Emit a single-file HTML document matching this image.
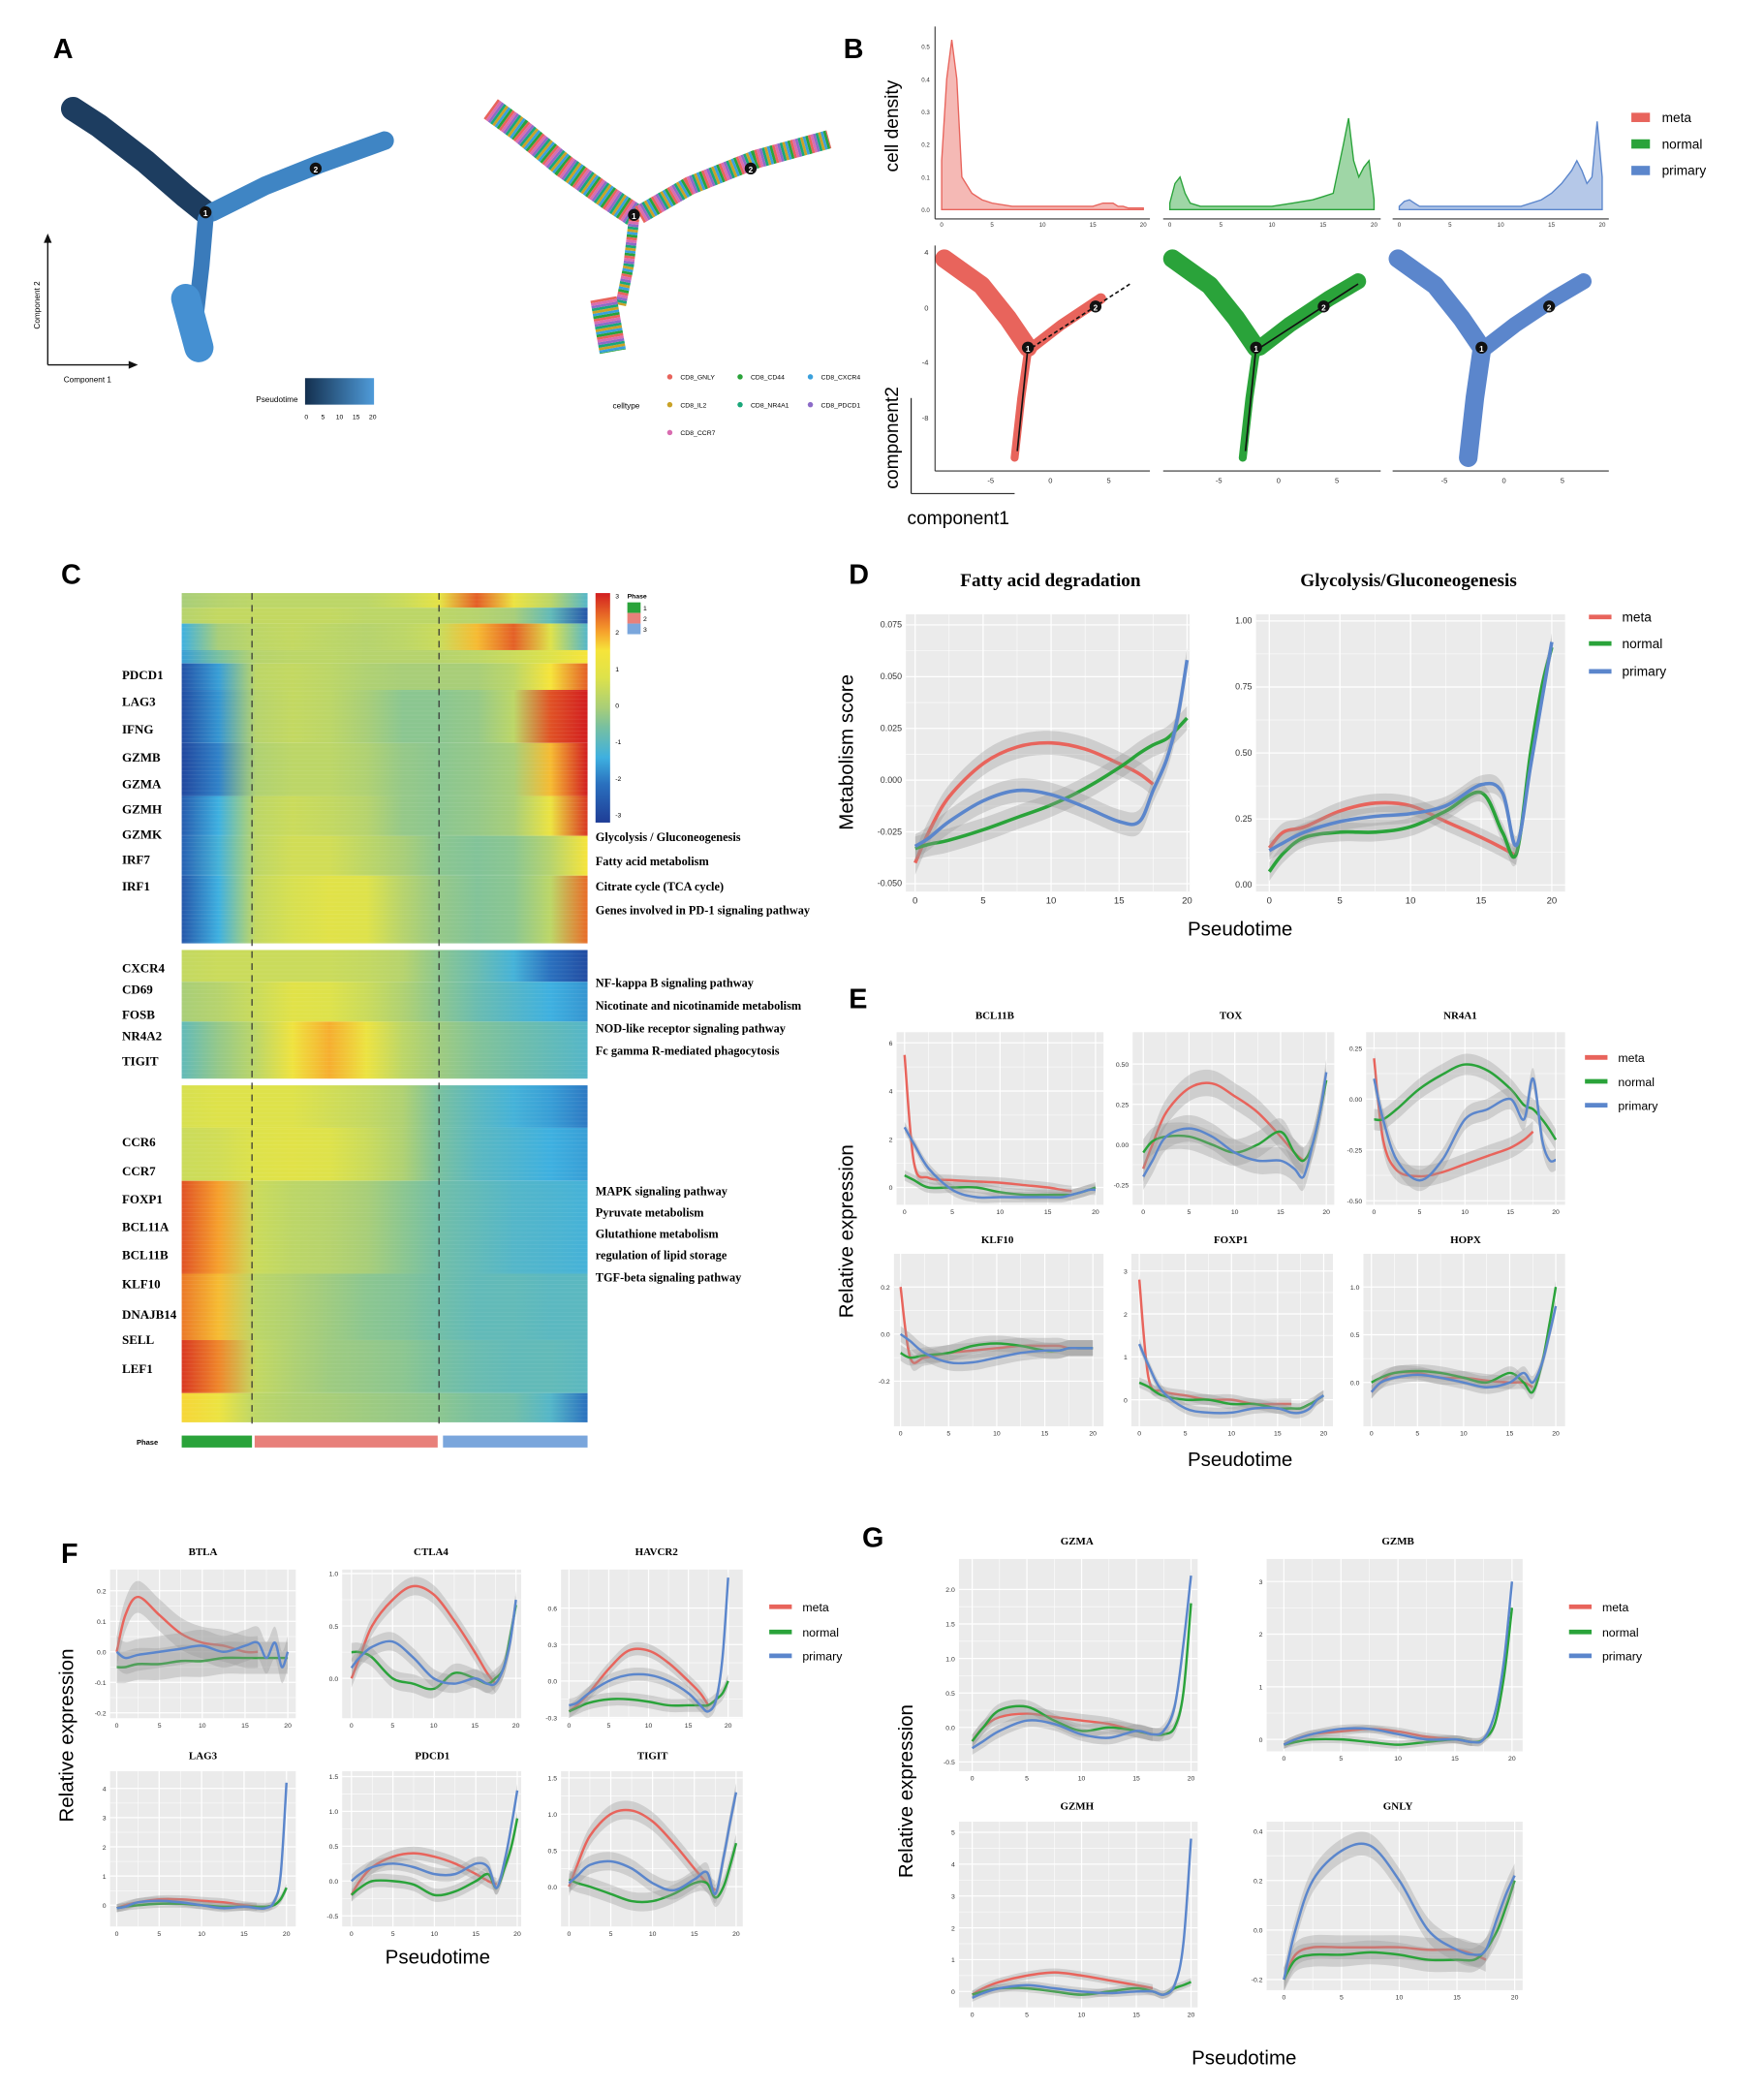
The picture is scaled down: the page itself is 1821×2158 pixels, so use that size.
<!DOCTYPE html>
<html><head><meta charset="utf-8"><style>
html,body{margin:0;padding:0;background:#fff;}
svg{display:block;font-family:"Liberation Sans",sans-serif;}
.sans{font-family:"Liberation Sans",sans-serif;}
.serif{font-family:"Liberation Serif",serif;font-weight:bold;}
</style></head><body>
<svg id="fig" width="1821" height="2158" viewBox="0 0 1330 1576" preserveAspectRatio="none" xmlns="http://www.w3.org/2000/svg" font-family="Liberation Sans, sans-serif">
<defs></defs>
<g id="static" class="sans">
<text x="40" y="44" font-size="21" font-weight="bold">A</text>
<text x="636" y="44" font-size="21" font-weight="bold">B</text>
<text x="46" y="440" font-size="21" font-weight="bold">C</text>
<text x="640" y="440" font-size="21" font-weight="bold">D</text>
<text x="640" y="760" font-size="21" font-weight="bold">E</text>
<text x="46" y="1178" font-size="21" font-weight="bold">F</text>
<text x="650" y="1166" font-size="21" font-weight="bold">G</text>
</g>
</svg>
<script>
const NS="http://www.w3.org/2000/svg";
const svg=document.getElementById('fig');
const defs=svg.querySelector('defs');
function mk(tag,attrs,parent){const e=document.createElementNS(NS,tag);for(const k in attrs)e.setAttribute(k,attrs[k]);(parent||svg).appendChild(e);return e;}
function txt(x,y,s,size,opts,parent){const t=mk('text',Object.assign({x:x,y:y,'font-size':size,class:'sans'},opts||{}),parent);t.textContent=s;return t;}
const COL={meta:'#e8645c',normal:'#2aa33a',primary:'#5b86cc'};
const seriesNames=['meta','normal','primary'];

// ---------- Panel A trajectories ----------
function traj(pts,stroke,w,name){const p=mk('polyline',{points:pts.map(p=>p.join(',')).join(' '),fill:'none',stroke:stroke,'stroke-width':w,'stroke-linecap':'round','stroke-linejoin':'round'});

return p;}
function node(x,y,lab){const c=mk('circle',{cx:x,cy:y,r:4.5,fill:'#111'});


txt(x,y+3,lab,6,{fill:'#fff','text-anchor':'middle','font-weight':'bold'});}
let g=mk('linearGradient',{id:'pt',x1:0,y1:0,x2:1,y2:0},defs);
mk('stop',{offset:0,'stop-color':'#14304f'},g);mk('stop',{offset:1,'stop-color':'#4f9bd9'},g);
traj([[55,82],[75,95],[110,122],[140,148],[155,160]],'#1d3d60',18,'trajectory-arm-left');
traj([[160,160],[200,140],[240,124],[290,106]],'#3f85c4',14,'trajectory-arm-right');
traj([[155,165],[152,200],[148,235],[145,262]],'#3a7bbb',12,'trajectory-arm-down');
traj([[140,225],[150,262]],'#4590d2',22,'trajectory-tip-down');
node(155,160,'1');node(238,127,'2');
mk('line',{x1:36,y1:275,x2:36,y2:180,stroke:'#111','stroke-width':1});
mk('line',{x1:36,y1:275,x2:100,y2:275,stroke:'#111','stroke-width':1});
mk('path',{d:'M33,183 L36,176 L39,183Z',fill:'#111'});mk('path',{d:'M97,272 L104,275 L97,278Z',fill:'#111'});
txt(30,230,'Component 2',6,{transform:'rotate(-90 30 230)','text-anchor':'middle'});
txt(48,288,'Component 1',6);
txt(193,303,'Pseudotime',6);
mk('rect',{x:230,y:285,width:52,height:20,fill:'url(#pt)'});
['0','5','10','15','20'].forEach((s,i)=>txt(231+i*12.5,316,s,5,{'text-anchor':'middle'}));
const cellColors=['#e8645c','#2aa33a','#3aa0dc','#c9a227','#1aa77a','#8c6bc8','#d96cb0'];
const cellNames=['CD8_GNLY','CD8_CD44','CD8_CXCR4','CD8_IL2','CD8_NR4A1','CD8_PDCD1','CD8_CCR7'];
const armR=[[[370,82],[392,98],[425,125],[460,150],[478,162]],[[482,162],[520,140],[570,120],[625,105]],[[478,165],[474,200],[468,230]],[[455,225],[462,265]]];
const armW=[18,14,8,20];
armR.forEach((a,i)=>{cellColors.forEach((c,j)=>{const p=traj(a,c,armW[i],'celltype-trajectory-'+cellNames[j]);p.setAttribute('stroke-dasharray','2 12');p.setAttribute('stroke-dashoffset',j*2);p.setAttribute('stroke-linecap','butt');});});
node(478,162,'1');node(566,127,'2');
cellNames.forEach((n,i)=>{const col=i%3,row=Math.floor(i/3);const x=505+col*53,y=286+row*21;
mk('circle',{cx:x,cy:y-2,r:2,fill:cellColors[i]});txt(x+8,y,n,5);});
txt(462,308,'celltype',6);

// ---------- Panel B ----------
const densX=[0,0.5,1,1.5,2,3,4,5,7,10,12,14,15,16,17,17.5,18,18.5,19,19.5,20];
const densMeta=[0.15,0.4,0.52,0.4,0.1,0.05,0.03,0.02,0.01,0.01,0.01,0.01,0.01,0.02,0.02,0.01,0.01,0.005,0.005,0.005,0.005];
const densNormal=[0.02,0.08,0.1,0.05,0.02,0.01,0.01,0.01,0.01,0.01,0.02,0.03,0.04,0.05,0.2,0.28,0.15,0.1,0.13,0.15,0.03];
const densPrimary=[0.01,0.025,0.03,0.02,0.01,0.01,0.01,0.01,0.01,0.01,0.01,0.03,0.05,0.08,0.12,0.15,0.12,0.08,0.1,0.27,0.1];
const densSets=[densMeta,densNormal,densPrimary];
const bPanels=[[710,862],[882,1036],[1055,1208]];
const dy=v=>158-v/0.52*128;
densSets.forEach((d,i)=>{const [a,b]=bPanels[i];const dx=v=>a+v/20*(b-a);
let s='M'+dx(0)+','+dy(0);d.forEach((v,k)=>{s+=' L'+dx(densX[k]).toFixed(1)+','+dy(v).toFixed(1);});s+=' L'+dx(20)+','+dy(0)+'Z';
const p=mk('path',{d:s,fill:COL[seriesNames[i]],'fill-opacity':0.45,stroke:COL[seriesNames[i]],'stroke-width':1});


mk('line',{x1:a-5,y1:165,x2:b+5,y2:165,stroke:'#333','stroke-width':0.8});
[0,5,10,15,20].forEach(t=>txt(dx(t),171,t,4.5,{'text-anchor':'middle',fill:'#333'}));
});
mk('line',{x1:705,y1:20,x2:705,y2:165,stroke:'#333','stroke-width':0.8});
[0,0.1,0.2,0.3,0.4,0.5].forEach(t=>txt(701,dy(t)+2,t.toFixed(1),4.5,{'text-anchor':'end',fill:'#333'}));
txt(677,95,'cell density',14,{transform:'rotate(-90 677 95)','text-anchor':'middle'});
seriesNames.forEach((n,i)=>{const y=90+i*20;const r=mk('rect',{x:1230,y:y-5,width:14,height:7,fill:COL[n]});

txt(1253,y+2,n,10);});
const bTraj=[[[712,195],[740,215],[760,240],[775,262]],[[778,262],[800,245],[830,225],[852,212]],[[775,265],[770,300],[765,345]]];
const shifts=[0,172,342];
shifts.forEach((sx,i)=>{const c=COL[seriesNames[i]];
const arms=bTraj.map(a=>a.map(p=>[p[0]+sx,p[1]]));
traj(arms[0],c,14,'b-traj-left-'+seriesNames[i]);
traj(i==0?arms[1].slice(0,3):arms[1],c,i==0?8:12,'b-traj-right-'+seriesNames[i]);
traj(arms[2],c,i==2?14:6,'b-traj-down-'+seriesNames[i]);
if(i<2){mk('line',{x1:775+sx,y1:262,x2:767+sx,y2:340,stroke:'#111','stroke-width':1.2});mk('line',{x1:778+sx,y1:262,x2:852+sx,y2:214,stroke:'#111','stroke-width':1.2,'stroke-dasharray':i==0?'3 2':''});}
node(775+sx,262,'1');node(826+sx,231,'2');
const a=bPanels[i][0],b=bPanels[i][1];
mk('line',{x1:a-5,y1:355,x2:b+5,y2:355,stroke:'#333','stroke-width':0.8});
[[-5,747],[0,792],[5,836]].forEach(t=>txt(t[1]+sx,364,t[0],5.5,{'text-anchor':'middle',fill:'#333'}));
});
mk('line',{x1:705,y1:185,x2:705,y2:355,stroke:'#333','stroke-width':0.8});
[[4,190],[0,232],[-4,273],[-8,315]].forEach(t=>txt(700,t[1]+2,t[0],5.5,{'text-anchor':'end',fill:'#333'}));
txt(677,330,'component2',14,{transform:'rotate(-90 677 330)','text-anchor':'middle'});
mk('line',{x1:687,y1:372,x2:765,y2:372,stroke:'#111','stroke-width':0.8});mk('line',{x1:687,y1:372,x2:687,y2:300,stroke:'#111','stroke-width':0.8});
txt(684,395,'component1',14);

// ---------- Panel C heatmap ----------
const hmX0=137,hmX1=443;
const bandRows=[[447,458],[458,470],[470,490],[490,500],[500,520],[520,560],[560,600],[600,630],[630,660],[660,711],[716,740],[740,770],[770,813],[818,850],[850,890],[890,960],[960,1010],[1010,1050],[1050,1072]];
const bandVals=[
[0,0.2,0.3,0.3,0.3,0.3,0.5,1.0,2.5,1.2,0.3,-1],
[0.2,0.4,0.4,0.4,0.4,0.3,0.3,0.3,0.2,0,-0.8,-2.5],
[-1.3,0,0.3,0.4,0.3,0.2,0.3,0.5,1.8,2.5,0.8,-1],
[-1.5,-0.5,0.2,0.3,0.3,0.2,0.2,0.2,0.3,0.5,0.8,1.5],
[-2.6,-1.5,0.3,0.4,0.3,0.1,0,0,0,0.3,1.5,2.5],
[-2.7,-1.6,0.2,0.4,0.3,0,-0.3,-0.3,-0.2,0.3,2.6,3],
[-2.8,-1.8,0.1,0.3,0.3,0.1,-0.2,-0.3,-0.2,0,1.8,3],
[-2.4,-1.3,0.3,0.5,0.4,0.2,-0.2,-0.3,-0.2,0,1.2,2.8],
[-2.3,-1.2,0.3,0.6,0.6,0.3,0,-0.3,-0.4,-0.3,0.2,1.5],
[-2.5,-1.3,0.4,0.7,0.9,0.8,0.2,-0.2,-0.4,-0.3,0.3,2.4],
[0.4,0.5,0.5,0.5,0.5,0.4,0.2,-0.3,-0.7,-1.2,-2,-2.7],
[0,0.2,0.5,0.9,0.8,0.5,0.1,-0.3,-0.7,-1,-1.3,-1.6],
[-0.8,-0.2,0.3,1.3,1.9,1.2,0.3,-0.1,-0.4,-0.6,-0.8,-1],
[0.7,0.8,0.8,0.8,0.6,0.4,0.1,-0.5,-0.9,-1.2,-1.5,-1.9],
[0.5,0.6,0.8,0.9,0.8,0.5,0.1,-0.5,-0.9,-1.1,-1.3,-1.5],
[2.6,2.0,0.5,0.3,0.2,0,-0.3,-0.6,-0.8,-1,-1.1,-1.2],
[2.3,1.8,0.3,0.1,-0.1,-0.3,-0.4,-0.6,-0.8,-0.8,-0.9,-0.9],
[2.8,2.2,0.4,0.1,-0.1,-0.2,-0.3,-0.5,-0.7,-0.8,-0.8,-0.9],
[1.6,1.2,0.3,0.1,0,-0.1,-0.2,-0.3,-0.5,-0.6,-1,-2]];
const cStops=[[-3,[31,61,150]],[-2,[42,112,190]],[-1.3,[62,176,224]],[-0.5,[120,192,160]],[0,[168,206,120]],[0.8,[222,226,74]],[1.5,[246,228,58]],[2,[246,160,44]],[3,[210,30,32]]];
function hcol(v){v=Math.max(-3,Math.min(3,v));for(let i=0;i<cStops.length-1;i++){const [a,ca]=cStops[i],[b,cb]=cStops[i+1];if(v<=b){const t=(v-a)/(b-a);return 'rgb('+ca.map((c,k)=>Math.round(c+(cb[k]-c)*t)).join(',')+')';}}return 'rgb(210,30,32)';}
bandRows.forEach((r,i)=>{const gr=mk('linearGradient',{id:'hb'+i,x1:0,y1:0,x2:1,y2:0},defs);
bandVals[i].forEach((v,k)=>mk('stop',{offset:(k/(bandVals[i].length-1)).toFixed(3),'stop-color':hcol(v)},gr));
const rc=mk('rect',{x:hmX0,y:r[0],width:hmX1-hmX0,height:r[1]-r[0],fill:'url(#hb'+i+')'});

});
for(let y=449;y<1072;y+=3){if((y>711&&y<716)||(y>813&&y<818))continue;mk('line',{x1:hmX0,y1:y,x2:hmX1,y2:y,stroke:'#fff','stroke-opacity':0.08,'stroke-width':0.6});}
[190,331].forEach(x=>mk('line',{x1:x,y1:447,x2:x,y2:1075,stroke:'#333','stroke-width':0.9,'stroke-dasharray':'5 4'}));
const cbg=mk('linearGradient',{id:'cbar',x1:0,y1:1,x2:0,y2:0},defs);
cStops.forEach(s=>mk('stop',{offset:((s[0]+3)/6).toFixed(3),'stop-color':hcol(s[0])},cbg));
mk('rect',{x:449,y:447,width:11,height:173,fill:'url(#cbar)'});
[3,2,1,0,-1,-2,-3].forEach((t,i)=>txt(464,451+i*27.5,t,5,{'text-anchor':'start'}));
txt(473,451,'Phase',5,{'font-weight':'bold'});
['#2aa33a','#e8807a','#7aa6dc'].forEach((c,i)=>{mk('rect',{x:473,y:454+i*8,width:10,height:8,fill:c});txt(485,460+i*8,i+1,5);});
const genes=[['PDCD1',512],['LAG3',532],['IFNG',553],['GZMB',574],['GZMA',594],['GZMH',613],['GZMK',632],['IRF7',651],['IRF1',671],['CXCR4',733],['CD69',749],['FOSB',768],['NR4A2',784],['TIGIT',803],['CCR6',864],['CCR7',886],['FOXP1',907],['BCL11A',928],['BCL11B',949],['KLF10',971],['DNAJB14',994],['SELL',1013],['LEF1',1035]];
genes.forEach(gn=>{const t=txt(92,gn[1],gn[0],9.5,{class:'serif'});});
const paths=[['Glycolysis / Gluconeogenesis',634],['Fatty acid metabolism',652],['Citrate cycle (TCA cycle)',671],['Genes involved in PD-1 signaling pathway',689],['NF-kappa B signaling pathway',744],['Nicotinate and nicotinamide metabolism',761],['NOD-like receptor signaling pathway',778],['Fc gamma R-mediated phagocytosis',795],['MAPK signaling pathway',901],['Pyruvate metabolism',917],['Glutathione metabolism',933],['regulation of lipid storage',949],['TGF-beta signaling pathway',966]];
paths.forEach(p=>txt(449,p[1],p[0],9,{class:'serif'}));
[[137,190,'#2aa33a'],[192,330,'#e8807a'],[334,443,'#7aa6dc']].forEach((s,i)=>{const r=mk('rect',{x:s[0],y:1082,width:s[1]-s[0],height:9,fill:s[2]});});
txt(103,1089,'Phase',5.5,{'font-weight':'bold'});

// ---------- smooth line panels ----------
const XS=[0,1,2.5,5,7.5,10,12.5,15,16.5,17.5,18.5,19.3,20];
const N=null;
const fattyMeta=[-0.04,-0.025,-0.008,0.008,0.016,0.018,0.015,0.008,0.003,-0.002,N,N,N];
const fattyNormal=[-0.033,-0.031,-0.029,-0.024,-0.018,-0.012,-0.004,0.006,0.013,0.017,0.02,0.025,0.03];
const fattyPrimary=[-0.032,-0.028,-0.02,-0.01,-0.005,-0.007,-0.013,-0.02,-0.02,-0.005,0.01,0.03,0.058];
const glyMeta=[0.14,0.2,0.22,0.28,0.31,0.3,0.24,0.18,0.14,0.11,N,N,N];
const glyNormal=[0.05,0.12,0.18,0.2,0.2,0.22,0.28,0.35,0.2,0.12,0.5,0.75,0.9];
const glyPrimary=[0.13,0.16,0.2,0.24,0.26,0.27,0.3,0.38,0.35,0.15,0.45,0.7,0.92];
const bcl11bMeta=[5.5,1,0.4,0.3,0.25,0.2,0.1,0,-0.1,-0.15,N,N,N];
const bcl11bNormal=[0.5,0.3,0,0,0,-0.2,-0.3,-0.3,-0.3,-0.3,-0.2,-0.1,0];
const bcl11bPrimary=[2.5,1.8,0.8,-0.1,-0.4,-0.4,-0.4,-0.4,-0.4,-0.3,-0.2,-0.1,-0.1];
const toxMeta=[-0.15,0,0.2,0.35,0.38,0.3,0.2,0.05,-0.05,-0.1,N,N,N];
const toxNormal=[-0.05,0.02,0.05,0.05,0,-0.05,0,0.08,-0.05,-0.1,0,0.2,0.4];
const toxPrimary=[-0.2,-0.1,0.05,0.1,0.05,-0.05,-0.1,-0.1,-0.15,-0.2,0,0.2,0.45];
const nr4a1Meta=[0.2,-0.2,-0.35,-0.38,-0.36,-0.32,-0.28,-0.24,-0.2,-0.16,N,N,N];
const nr4a1Normal=[-0.1,-0.1,-0.05,0.05,0.12,0.17,0.14,0.05,-0.03,-0.05,-0.1,-0.15,-0.2];
const nr4a1Primary=[0.1,-0.1,-0.3,-0.4,-0.3,-0.1,-0.05,0,-0.1,0.1,-0.2,-0.3,-0.3];
const klf10Meta=[0.2,-0.1,-0.1,-0.08,-0.07,-0.06,-0.05,-0.05,-0.05,-0.06,-0.06,-0.06,-0.06];
const klf10Normal=[-0.08,-0.1,-0.09,-0.08,-0.05,-0.04,-0.05,-0.07,-0.07,-0.06,-0.06,-0.06,-0.06];
const klf10Primary=[0,-0.03,-0.08,-0.12,-0.12,-0.1,-0.08,-0.07,-0.07,-0.06,-0.06,-0.06,-0.06];
const foxp1Meta=[2.8,0.5,0.2,0.1,0,0,-0.1,-0.1,-0.1,N,N,N,N];
const foxp1Normal=[0.4,0.3,0.1,0,0,-0.1,-0.1,-0.2,-0.2,-0.2,-0.1,0,0.1];
const foxp1Primary=[1.3,0.8,0.2,-0.2,-0.3,-0.3,-0.2,-0.2,-0.3,-0.3,-0.2,0,0.1];
const hopxMeta=[-0.1,0,0.1,0.1,0.05,0.05,0.02,0,0,-0.05,N,N,N];
const hopxNormal=[0,0.05,0.1,0.12,0.1,0.05,0,0.1,0,-0.1,0.2,0.6,1.0];
const hopxPrimary=[-0.1,0,0.05,0.08,0.05,0,-0.05,0,0.1,0,0.2,0.5,0.8];
const btlaMeta=[0,0.12,0.18,0.12,0.06,0.03,0.02,0,0,N,N,N,N];
const btlaNormal=[-0.05,-0.05,-0.04,-0.04,-0.03,-0.03,-0.02,-0.02,-0.02,-0.02,-0.02,-0.02,-0.02];
const btlaPrimary=[0,-0.02,-0.01,0,0.01,0.02,0,0.02,0.03,-0.02,0.03,-0.05,0];
const ctla4Meta=[0,0.2,0.5,0.75,0.88,0.8,0.55,0.25,0.05,-0.05,N,N,N];
const ctla4Normal=[0.25,0.25,0.2,0,-0.05,-0.1,0.05,0,-0.05,0,0.1,0.4,0.7];
const ctla4Primary=[0.1,0.2,0.3,0.35,0.2,0,-0.05,0,-0.05,-0.05,0.1,0.35,0.75];
const havcr2Meta=[-0.25,-0.2,-0.1,0.1,0.25,0.25,0.15,0,-0.1,-0.2,N,N,N];
const havcr2Normal=[-0.25,-0.22,-0.18,-0.15,-0.15,-0.17,-0.2,-0.2,-0.2,-0.2,-0.15,-0.1,0];
const havcr2Primary=[-0.2,-0.18,-0.1,0,0.05,0.05,0,-0.1,-0.2,-0.25,-0.15,0.2,0.85];
const lag3Meta=[-0.1,0,0.1,0.2,0.2,0.15,0.1,0,-0.05,N,N,N,N];
const lag3Normal=[-0.1,-0.05,0,0.05,0.05,0,-0.05,-0.05,-0.05,-0.05,0,0.2,0.6];
const lag3Primary=[-0.1,-0.05,0.1,0.15,0.1,0,-0.1,-0.05,-0.1,-0.1,0.1,1,4.2];
const pdcd1Meta=[-0.2,0,0.2,0.35,0.4,0.35,0.25,0.1,0,-0.05,N,N,N];
const pdcd1Normal=[-0.2,-0.1,0,0,-0.05,-0.2,-0.15,0,0.1,-0.1,0.2,0.5,0.9];
const pdcd1Primary=[0,0.1,0.2,0.25,0.2,0.1,0.1,0.25,0.2,-0.1,0.3,0.8,1.3];
const tigitMeta=[0,0.3,0.7,1.0,1.05,0.9,0.6,0.25,0.05,-0.05,N,N,N];
const tigitNormal=[0.1,0.05,0,-0.1,-0.2,-0.2,-0.1,0.05,0.05,-0.15,0,0.3,0.6];
const tigitPrimary=[0.05,0.15,0.3,0.35,0.25,0.05,-0.05,0.1,0.2,-0.1,0.4,0.9,1.3];
const gzmaMeta=[-0.2,0,0.15,0.2,0.15,0.1,0.05,-0.05,-0.1,N,N,N,N];
const gzmaNormal=[-0.2,0,0.25,0.3,0.1,-0.05,0,-0.05,-0.1,-0.1,0,0.5,1.8];
const gzmaPrimary=[-0.3,-0.2,-0.05,0.1,0.05,-0.1,-0.15,-0.05,-0.1,-0.05,0.3,1.2,2.2];
const gzmbMeta=[-0.1,0,0.1,0.15,0.2,0.15,0.05,0,-0.05,N,N,N,N];
const gzmbNormal=[-0.1,-0.05,0,0,-0.05,-0.1,-0.05,0,-0.05,0,0.3,1.2,2.5];
const gzmbPrimary=[-0.1,0,0.1,0.2,0.2,0.1,0,0,-0.05,0,0.5,1.5,3.0];
const gzmhMeta=[-0.1,0.1,0.3,0.5,0.6,0.5,0.35,0.2,0.1,N,N,N,N];
const gzmhNormal=[-0.1,0,0.1,0.1,0,-0.1,0,0.1,0,-0.1,0.1,0.2,0.3];
const gzmhPrimary=[-0.2,-0.05,0.1,0.2,0.1,0,-0.05,0,0,-0.1,0.2,1.5,4.8];
const gnlyMeta=[-0.2,-0.1,-0.07,-0.07,-0.07,-0.07,-0.08,-0.08,-0.1,-0.12,N,N,N];
const gnlyNormal=[-0.2,-0.12,-0.1,-0.1,-0.09,-0.1,-0.12,-0.12,-0.12,-0.08,0,0.1,0.2];
const gnlyPrimary=[-0.2,0,0.2,0.32,0.34,0.2,0,-0.08,-0.1,-0.08,0.05,0.15,0.22];

const panels=[
{id:'fatty-acid-degradation',title:'Fatty acid degradation',tx:792,ty:442,ts:14,g:[683,897,463,672,690,895,-0.05,666,0.075,471],yt:[-0.05,-0.025,0,0.025,0.05,0.075],fmt:3,s:[fattyMeta,fattyNormal,fattyPrimary],rib:9},
{id:'glycolysis',title:'Glycolysis/Gluconeogenesis',tx:1062,ty:442,ts:14,g:[947,1180,463,672,957,1170,0,667,1,468],yt:[0,0.25,0.5,0.75,1],fmt:2,s:[glyMeta,glyNormal,glyPrimary],rib:7},
{id:'bcl11b',title:'BCL11B',tx:750,ty:768,g:[676,832,778,908,682,826,0,895,6,786],yt:[0,2,4,6],fmt:0,s:[bcl11bMeta,bcl11bNormal,bcl11bPrimary],rib:4},
{id:'tox',title:'TOX',tx:928,ty:768,g:[854,1006,778,908,862,1000,-0.25,893,0.5,802],yt:[-0.25,0,0.25,0.5],fmt:2,s:[toxMeta,toxNormal,toxPrimary],rib:10},
{id:'nr4a1',title:'NR4A1',tx:1101,ty:768,g:[1030,1180,778,908,1036,1173,-0.5,905,0.25,790],yt:[-0.5,-0.25,0,0.25],fmt:2,s:[nr4a1Meta,nr4a1Normal,nr4a1Primary],rib:8},
{id:'klf10',title:'KLF10',tx:752,ty:937,g:[674,832,945,1075,679,824,-0.2,1041,0.2,970],yt:[-0.2,0,0.2],fmt:1,s:[klf10Meta,klf10Normal,klf10Primary],rib:6},
{id:'foxp1',title:'FOXP1',tx:928,ty:937,g:[853,1005,945,1075,859,998,0,1055,3,958],yt:[0,1,2,3],fmt:0,s:[foxp1Meta,foxp1Normal,foxp1Primary],rib:4},
{id:'hopx',title:'HOPX',tx:1105,ty:937,g:[1028,1180,945,1075,1034,1173,0,1042,1,970],yt:[0,0.5,1],fmt:1,s:[hopxMeta,hopxNormal,hopxPrimary],rib:5},
{id:'btla',title:'BTLA',tx:153,ty:1172,g:[83,223,1183,1295,88,217,-0.2,1291,0.2,1199],yt:[-0.2,-0.1,0,0.1,0.2],fmt:1,s:[btlaMeta,btlaNormal,btlaPrimary],rib:12},
{id:'ctla4',title:'CTLA4',tx:325,ty:1172,g:[258,393,1183,1295,265,389,0,1265,1,1186],yt:[0,0.5,1],fmt:1,s:[ctla4Meta,ctla4Normal,ctla4Primary],rib:7},
{id:'havcr2',title:'HAVCR2',tx:495,ty:1172,g:[423,560,1183,1295,429,549,0,1267,0.6,1212],yt:[-0.3,0,0.3,0.6],fmt:1,s:[havcr2Meta,havcr2Normal,havcr2Primary],rib:5},
{id:'lag3',title:'LAG3',tx:153,ty:1326,g:[83,223,1335,1452,88,216,0,1436,4,1348],yt:[0,1,2,3,4],fmt:0,s:[lag3Meta,lag3Normal,lag3Primary],rib:3},
{id:'pdcd1',title:'PDCD1',tx:326,ty:1326,g:[258,393,1335,1452,265,390,-0.5,1444,1.5,1339],yt:[-0.5,0,0.5,1,1.5],fmt:1,s:[pdcd1Meta,pdcd1Normal,pdcd1Primary],rib:5},
{id:'tigit',title:'TIGIT',tx:492,ty:1326,g:[423,560,1335,1452,429,555,0,1422,1.5,1340],yt:[0,0.5,1,1.5],fmt:1,s:[tigitMeta,tigitNormal,tigitPrimary],rib:7},
{id:'gzma',title:'GZMA',tx:812,ty:1164,g:[723,903,1175,1335,733,898,-0.5,1328,2,1198],yt:[-0.5,0,0.5,1,1.5,2],fmt:1,s:[gzmaMeta,gzmaNormal,gzmaPrimary],rib:5},
{id:'gzmb',title:'GZMB',tx:1054,ty:1164,g:[955,1148,1175,1320,968,1140,0,1311,3,1192],yt:[0,1,2,3],fmt:0,s:[gzmbMeta,gzmbNormal,gzmbPrimary],rib:3},
{id:'gzmh',title:'GZMH',tx:812,ty:1364,g:[723,903,1373,1513,733,898,0,1501,5,1381],yt:[0,1,2,3,4,5],fmt:0,s:[gzmhMeta,gzmhNormal,gzmhPrimary],rib:3},
{id:'gnly',title:'GNLY',tx:1054,ty:1364,g:[955,1148,1373,1500,968,1142,-0.2,1492,0.4,1380],yt:[-0.2,0,0.2,0.4],fmt:1,s:[gnlyMeta,gnlyNormal,gnlyPrimary],rib:9}
];
function spline(pts){let d='M'+pts[0][0].toFixed(1)+','+pts[0][1].toFixed(1);
for(let i=0;i<pts.length-1;i++){const p0=pts[i-1]||pts[i],p1=pts[i],p2=pts[i+1],p3=pts[i+2]||p2;
const c1=[p1[0]+(p2[0]-p0[0])/6,p1[1]+(p2[1]-p0[1])/6],c2=[p2[0]-(p3[0]-p1[0])/6,p2[1]-(p3[1]-p1[1])/6];
d+=' C'+c1.map(v=>v.toFixed(1)).join(',')+' '+c2.map(v=>v.toFixed(1)).join(',')+' '+p2.map(v=>v.toFixed(1)).join(',');}return d;}
panels.forEach((P,pi)=>{const [L,R,T,B,x0,x20,v1,p1,v2,p2]=P.g;
const X=v=>x0+v/20*(x20-x0), Y=v=>p1+(v-v1)/(v2-v1)*(p2-p1);
const grp=mk('g',{});
const cp=mk('clipPath',{id:'cp'+pi},defs);mk('rect',{x:L,y:T,width:R-L,height:B-T},cp);
mk('rect',{x:L,y:T,width:R-L,height:B-T,fill:'#ebebeb'},grp);
[0,5,10,15,20].forEach(t=>mk('line',{x1:X(t),y1:T,x2:X(t),y2:B,stroke:'#fff','stroke-width':0.9},grp));
[2.5,7.5,12.5,17.5].forEach(t=>mk('line',{x1:X(t),y1:T,x2:X(t),y2:B,stroke:'#fff','stroke-width':0.4},grp));
P.yt.forEach(t=>{mk('line',{x1:L,y1:Y(t),x2:R,y2:Y(t),stroke:'#fff','stroke-width':0.9},grp);
txt(L-3,Y(t)+2,t.toFixed(P.fmt),P.ts?6.5:5,{'text-anchor':'end',fill:'#333'},grp);});
for(let i=0;i<P.yt.length-1;i++){const m=(P.yt[i]+P.yt[i+1])/2;mk('line',{x1:L,y1:Y(m),x2:R,y2:Y(m),stroke:'#fff','stroke-width':0.4},grp);}
[0,5,10,15,20].forEach(t=>txt(X(t),B+(P.ts?9:7),t,P.ts?7:5,{'text-anchor':'middle',fill:'#333'},grp));
const inner=mk('g',{'clip-path':'url(#cp'+pi+')'},grp);
P.s.forEach((arr,si)=>{const pts=[];arr.forEach((v,k)=>{if(v!==null)pts.push([X(XS[k]),Y(v)]);});
const up=pts.map(p=>[p[0],p[1]-P.rib]),dn=pts.map(p=>[p[0],p[1]+P.rib]).reverse();
const rb=mk('path',{d:spline(up)+' L'+spline(dn).slice(1)+'Z',fill:'#999','fill-opacity':0.35},inner);


const ln=mk('path',{d:spline(pts),fill:'none',stroke:COL[seriesNames[si]],'stroke-width':P.ts?2.6:1.8},inner);

});
txt(P.tx,P.ty,P.title,P.ts||8,{'text-anchor':'middle',class:'serif'},grp);
});
function legend(x,ys,size,name){seriesNames.forEach((n,i)=>{const l=mk('line',{x1:x,y1:ys[i],x2:x+17,y2:ys[i],stroke:COL[n],'stroke-width':3.5});


txt(x+25,ys[i]+3.5,n,size);});}
legend(1198,[465,485,506],10,'legend-d');
legend(1195,[797,815,833],9,'legend-e');
legend(580,[1211,1230,1248],9,'legend-f');
legend(1183,[1211,1230,1248],9,'legend-g');
function rot(x,y,s,size){txt(x,y,s,size,{transform:'rotate(-90 '+x+' '+y+')','text-anchor':'middle'});}
rot(643,567,'Metabolism score',15);txt(935,705,'Pseudotime',15,{'text-anchor':'middle'});
rot(643,928,'Relative expression',15);txt(935,1105,'Pseudotime',15,{'text-anchor':'middle'});
rot(55,1308,'Relative expression',15);txt(330,1480,'Pseudotime',15,{'text-anchor':'middle'});
rot(688,1350,'Relative expression',15);txt(938,1556,'Pseudotime',15,{'text-anchor':'middle'});
</script>
</body></html>
